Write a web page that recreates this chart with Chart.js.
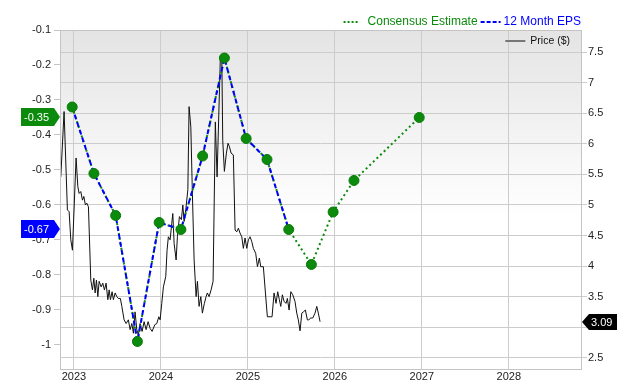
<!DOCTYPE html>
<html>
<head>
<meta charset="utf-8">
<script src="https://cdn.jsdelivr.net/npm/chart.js@4"></script>
<style>
  html, body { margin: 0; padding: 0; background: #fff; }
  #wrap { width: 640px; height: 380px; }
</style>
</head>
<body>
<div id="wrap"><canvas id="chart" width="640" height="380"></canvas></div>
<script>
// EPS par trimestre (date en années décimales)
const epsDates = [2022.98, 2023.23, 2023.48, 2023.73, 2023.98, 2024.23, 2024.48, 2024.73, 2024.98, 2025.22, 2025.47, 2025.73, 2025.98, 2026.22, 2026.97];
const epsValues = [-0.32, -0.51, -0.63, -0.99, -0.65, -0.67, -0.46, -0.18, -0.41, -0.47, -0.67, -0.77, -0.62, -0.53, -0.35];
const actualCount = 11; // les 11 premiers sont publiés, le reste = consensus

// Cours ($)
const priceDates = [2022.849, 2022.887, 2022.925, 2022.945, 2022.964, 2022.983, 2023.025, 2023.045, 2023.06, 2023.079,
  2023.098, 2023.114, 2023.132, 2023.148, 2023.167, 2023.194, 2023.213, 2023.229, 2023.244, 2023.259,
  2023.275, 2023.29, 2023.313, 2023.332, 2023.351, 2023.37, 2023.39, 2023.405, 2023.42, 2023.439,
  2023.454, 2023.474, 2023.493, 2023.511, 2023.534, 2023.551, 2023.577, 2023.6, 2023.626, 2023.646,
  2023.666, 2023.684, 2023.703, 2023.723, 2023.741, 2023.761, 2023.784, 2023.807, 2023.83, 2023.853,
  2023.876, 2023.899, 2023.93, 2023.953, 2023.976, 2023.991, 2024.01, 2024.029, 2024.056, 2024.071,
  2024.086, 2024.106, 2024.125, 2024.137, 2024.152, 2024.175, 2024.19, 2024.213, 2024.236, 2024.252,
  2024.267, 2024.286, 2024.31, 2024.324, 2024.344, 2024.362, 2024.382, 2024.405, 2024.42, 2024.439,
  2024.459, 2024.477, 2024.5, 2024.52, 2024.534, 2024.554, 2024.577, 2024.6, 2024.626, 2024.646,
  2024.684, 2024.7, 2024.711, 2024.73, 2024.753, 2024.772, 2024.787, 2024.807, 2024.833, 2024.853,
  2024.872, 2024.891, 2024.91, 2024.93, 2024.948, 2024.968, 2024.987, 2025.006, 2025.025, 2025.045,
  2025.063, 2025.09, 2025.11, 2025.132, 2025.148, 2025.178, 2025.224, 2025.255, 2025.278, 2025.301,
  2025.324, 2025.343, 2025.362, 2025.378, 2025.397, 2025.416, 2025.44, 2025.454, 2025.474, 2025.494,
  2025.516, 2025.542, 2025.562, 2025.58, 2025.6, 2025.62, 2025.638, 2025.661, 2025.684, 2025.7,
  2025.723, 2025.746, 2025.772, 2025.792, 2025.81, 2025.83];
const priceValues = [5.46, 6.53, 4.92, 4.89, 4.43, 4.26, 5.77, 5.30, 5.19, 5.22,
  5.08, 5.14, 5.00, 5.03, 4.97, 3.77, 3.61, 3.80, 3.56, 3.77,
  3.50, 3.75, 3.66, 3.72, 3.61, 3.72, 3.45, 3.61, 3.45, 3.58,
  3.45, 3.56, 3.50, 3.47, 3.47, 3.34, 3.12, 3.06, 3.12, 2.96,
  3.06, 2.90, 3.25, 2.96, 2.87, 3.06, 2.93, 3.09, 2.96, 3.09,
  2.98, 2.93, 3.04, 3.06, 3.17, 3.12, 3.39, 3.66, 3.83, 4.26,
  4.48, 4.43, 4.70, 4.86, 4.37, 4.10, 4.48, 4.81, 4.76, 5.00,
  4.73, 4.92, 5.25, 6.61, 6.28, 5.19, 4.10, 3.50, 3.75, 3.34,
  3.50, 3.23, 3.39, 3.50, 3.56, 3.50, 3.61, 3.75, 6.36, 5.46,
  7.43, 7.46, 6.06, 5.55, 5.85, 6.01, 5.96, 5.85, 5.82, 4.59,
  4.56, 4.62, 4.54, 4.48, 4.29, 4.46, 4.29, 4.43, 4.48, 4.40,
  4.29, 4.21, 3.99, 4.13, 3.99, 3.99, 3.17, 3.17, 3.17, 3.56,
  3.39, 3.58, 3.45, 3.34, 3.53, 3.42, 3.39, 3.47, 3.28, 3.58,
  3.53, 3.42, 3.23, 3.12, 2.94, 3.23, 3.25, 3.28, 3.12, 3.12,
  3.15, 3.15, 3.23, 3.34, 3.23, 3.09];

// Graduations
const yearTicks = [2023, 2024, 2025, 2026, 2027, 2028];
const epsTicks = [-0.1, -0.2, -0.3, -0.4, -0.5, -0.6, -0.7, -0.8, -0.9, -1];
const priceTicks = [2.5, 3, 3.5, 4, 4.5, 5, 5.5, 6, 6.5, 7, 7.5];

const FONT = '"Liberation Sans", Arial, sans-serif';
const GREEN = '#0c8a0c';
const BLUE = '#0000ff';

const epsPoints = epsDates.map((d, i) => ({ x: d, y: epsValues[i] }));
const pricePoints = priceDates.map((d, i) => ({ x: d, y: priceValues[i] }));

function setTicks(list) {
    return axis => { axis.ticks = list.map(v => ({ value: v })); };
}

// Fond dégradé + cadre
const backgroundPlugin = {
    id: 'background',
    beforeDraw(chart) {
        const { ctx, chartArea: a } = chart;
        const g = ctx.createLinearGradient(0, a.top, 0, a.bottom);
        g.addColorStop(0, '#e4e4e4');
        g.addColorStop(0.55, '#ffffff');
        g.addColorStop(1, '#ffffff');
        ctx.save();
        ctx.fillStyle = g;
        ctx.fillRect(a.left, a.top, a.right - a.left, a.bottom - a.top);
        ctx.restore();
    },
    afterDraw(chart) {
        const { ctx, chartArea: a } = chart;
        ctx.save();
        ctx.strokeStyle = '#c4c4c4';
        ctx.lineWidth = 1;
        ctx.strokeRect(Math.round(a.left) + 0.5, Math.round(a.top) + 0.5,
            Math.round(a.right - a.left), Math.round(a.bottom - a.top));
        ctx.restore();
    }
};

// Légendes et étiquettes
const labelsPlugin = {
    id: 'labels',
    afterDraw(chart) {
        const { ctx, chartArea: a, scales } = chart;
        ctx.save();

        // légende du haut
        ctx.font = '12px ' + FONT;
        ctx.textBaseline = 'middle';
        const ly = 22;
        let x = a.right;
        const epsText = '12 Month EPS';
        x -= ctx.measureText(epsText).width;
        ctx.fillStyle = BLUE;
        ctx.fillText(epsText, x, ly);
        ctx.strokeStyle = BLUE;
        ctx.lineWidth = 2;
        ctx.setLineDash([4, 2]);
        ctx.beginPath(); ctx.moveTo(x - 23, ly); ctx.lineTo(x - 3, ly); ctx.stroke();
        x -= 26;
        const estText = 'Consensus Estimate';
        x -= ctx.measureText(estText).width;
        ctx.fillStyle = GREEN;
        ctx.fillText(estText, x, ly);
        ctx.strokeStyle = GREEN;
        ctx.setLineDash([2, 2]);
        ctx.beginPath(); ctx.moveTo(x - 24, ly); ctx.lineTo(x - 10, ly); ctx.stroke();
        ctx.setLineDash([]);

        // légende du cours
        ctx.font = '10.5px ' + FONT;
        const py = a.top + 11;
        const pt = 'Price ($)';
        const px = a.right - 11 - ctx.measureText(pt).width;
        ctx.fillStyle = '#111';
        ctx.fillText(pt, px, py);
        ctx.strokeStyle = '#777';
        ctx.lineWidth = 2;
        ctx.beginPath(); ctx.moveTo(px - 25, py); ctx.lineTo(px - 5, py); ctx.stroke();

        // étiquettes des dernières valeurs
        ctx.font = '11px ' + FONT;
        const leftTag = (val, color) => {
            const y = Math.round(scales.y.getPixelForValue(val));
            ctx.fillStyle = color;
            ctx.beginPath();
            ctx.moveTo(21, y - 9); ctx.lineTo(a.left - 6, y - 9); ctx.lineTo(a.left, y);
            ctx.lineTo(a.left - 6, y + 9); ctx.lineTo(21, y + 9); ctx.closePath();
            ctx.fill();
            ctx.fillStyle = '#fff';
            ctx.textAlign = 'left';
            ctx.fillText(val.toFixed(2), 24, y + 0.5);
        };
        leftTag(epsValues[epsValues.length - 1], GREEN);
        leftTag(epsValues[actualCount - 1], BLUE);

        const last = priceValues[priceValues.length - 1];
        const ry = Math.round(scales.y2.getPixelForValue(last));
        ctx.fillStyle = '#000';
        ctx.beginPath();
        ctx.moveTo(a.right + 1, ry); ctx.lineTo(a.right + 8, ry - 8); ctx.lineTo(a.right + 36, ry - 8);
        ctx.lineTo(a.right + 36, ry + 8); ctx.lineTo(a.right + 8, ry + 8); ctx.closePath();
        ctx.fill();
        ctx.fillStyle = '#fff';
        ctx.fillText(last.toFixed(2), a.right + 10, ry + 0.5);

        ctx.restore();
    }
};

const tickFont = { family: FONT, size: 11 };

new Chart(document.getElementById('chart'), {
    type: 'line',
    data: {
        datasets: [
            {
                label: 'points',
                data: epsPoints,
                showLine: false,
                pointRadius: 5,
                pointBackgroundColor: GREEN,
                pointBorderColor: '#0a7a0a',
                pointBorderWidth: 1,
                yAxisID: 'y'
            },
            {
                label: '12 Month EPS',
                data: epsPoints.slice(0, actualCount),
                borderColor: BLUE,
                borderWidth: 2,
                borderDash: [5, 3],
                pointRadius: 0,
                fill: false,
                yAxisID: 'y'
            },
            {
                label: 'Consensus Estimate',
                data: epsPoints,
                borderColor: GREEN,
                borderWidth: 2,
                borderDash: [2, 3],
                pointRadius: 0,
                fill: false,
                yAxisID: 'y'
            },
            {
                label: 'Price ($)',
                data: pricePoints,
                borderColor: '#111',
                borderWidth: 1,
                pointRadius: 0,
                fill: false,
                yAxisID: 'y2'
            }
        ]
    },
    options: {
        responsive: false,
        animation: false,
        devicePixelRatio: 1,
        layout: { padding: { top: 30, left: 0, right: 0, bottom: 0 } },
        plugins: {
            legend: { display: false },
            tooltip: { enabled: false }
        },
        scales: {
            x: {
                type: 'linear',
                min: 2022.84,
                max: 2028.83,
                afterBuildTicks: setTicks(yearTicks),
                afterFit: axis => { axis.height = 11; },
                grid: { color: '#cccccc', drawTicks: false },
                border: { display: false },
                ticks: { font: tickFont, color: '#222', padding: 1, maxRotation: 0, callback: v => String(v) }
            },
            y: {
                position: 'left',
                min: -1.0686,
                max: -0.1,
                afterBuildTicks: setTicks(epsTicks),
                afterFit: axis => { axis.width = 60; },
                grid: { drawOnChartArea: false, color: '#c4c4c4', tickLength: 6 },
                border: { display: false },
                ticks: { font: tickFont, color: '#222', padding: 3, callback: v => String(Math.round(v * 10) / 10) }
            },
            y2: {
                position: 'right',
                min: 2.315,
                max: 7.865,
                afterBuildTicks: setTicks(priceTicks),
                afterFit: axis => { axis.width = 59; },
                grid: { color: '#cccccc', tickLength: 6 },
                border: { display: false },
                ticks: { font: tickFont, color: '#222', padding: 1, callback: v => String(v) }
            }
        }
    },
    plugins: [backgroundPlugin, labelsPlugin]
});
</script>
</body>
</html>
